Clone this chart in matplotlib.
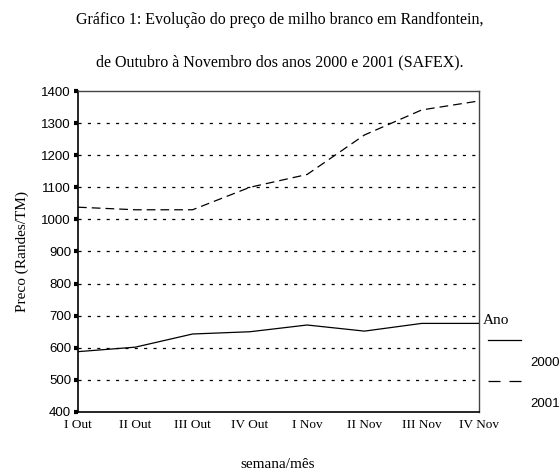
import matplotlib.pyplot as plt
from matplotlib.lines import Line2D

semanas = ['I Out', 'II Out', 'III Out', 'IV Out', 'I Nov', 'II Nov', 'III Nov', 'IV Nov']
preco_2000 = [588, 602, 643, 650, 671, 652, 676, 676]
preco_2001 = [1038, 1030, 1030, 1100, 1140, 1263, 1341, 1369]
yticks = [400, 500, 600, 700, 800, 900, 1000, 1100, 1200, 1300, 1400]

serif = 'Liberation Serif'
sans = 'Liberation Sans'
tracejado = (0, (7, 4))

fig = plt.figure(figsize=(5.6, 4.76), dpi=100)
ax = fig.add_axes([78 / 560, 64 / 476, 401 / 560, 321 / 476])

x = list(range(len(semanas)))
for v in yticks[1:-1]:
    ax.axhline(v, color='black', lw=0.9, ls=(0, (2.5, 5)), zorder=1)

ax.plot(x, preco_2000, color='black', lw=0.9, zorder=3)
ax.plot(x, preco_2001, color='black', lw=0.9, ls=tracejado, zorder=3)

ax.set_xlim(0, len(semanas) - 1)
ax.set_ylim(400, 1400)
ax.set_yticks(yticks)
ax.set_yticklabels([str(v) for v in yticks], fontfamily=sans, fontsize=9.5)
ax.set_xticks(x)
ax.set_xticklabels(semanas, fontfamily=serif, fontsize=9.5)
ax.tick_params(axis='y', length=3, width=3, direction='out', pad=2)
ax.tick_params(axis='x', length=0, pad=5)

for s in ['left', 'bottom']:
    ax.spines[s].set_color('black')
    ax.spines[s].set_linewidth(1.2)
for s in ['top', 'right']:
    ax.spines[s].set_color('#444444')
    ax.spines[s].set_linewidth(1.0)

ax.set_ylabel('Preco (Randes/TM)', fontfamily=serif, fontsize=11, labelpad=9)

fig.text(0.5, 1 - 20 / 476, 'Gráfico 1: Evolução do preço de milho branco em Randfontein,',
         ha='center', va='center', fontfamily=serif, fontsize=11.5)
fig.text(0.5, 1 - 62 / 476, 'de Outubro à Novembro dos anos 2000 e 2001 (SAFEX).',
         ha='center', va='center', fontfamily=serif, fontsize=11.5)
fig.text(278 / 560, 1 - 464 / 476, 'semana/mês', ha='center', va='center',
         fontfamily=serif, fontsize=11)

# legenda desenhada à mão como no original
fig.text(483 / 560, 1 - 321 / 476, 'Ano', ha='left', va='center', fontfamily=serif, fontsize=11)
fig.add_artist(Line2D([488 / 560, 521 / 560], [1 - 340 / 476] * 2, color='black', lw=0.9))
fig.text(530 / 560, 1 - 363 / 476, '2000', ha='left', va='center', fontfamily=sans, fontsize=9.5)
fig.add_artist(Line2D([488 / 560, 521 / 560], [1 - 381 / 476] * 2, color='black', lw=0.9,
                      ls=(0, (9.6, 7.2))))
fig.text(530 / 560, 1 - 404 / 476, '2001', ha='left', va='center', fontfamily=sans, fontsize=9.5)

fig.savefig('out.png', dpi=100)
